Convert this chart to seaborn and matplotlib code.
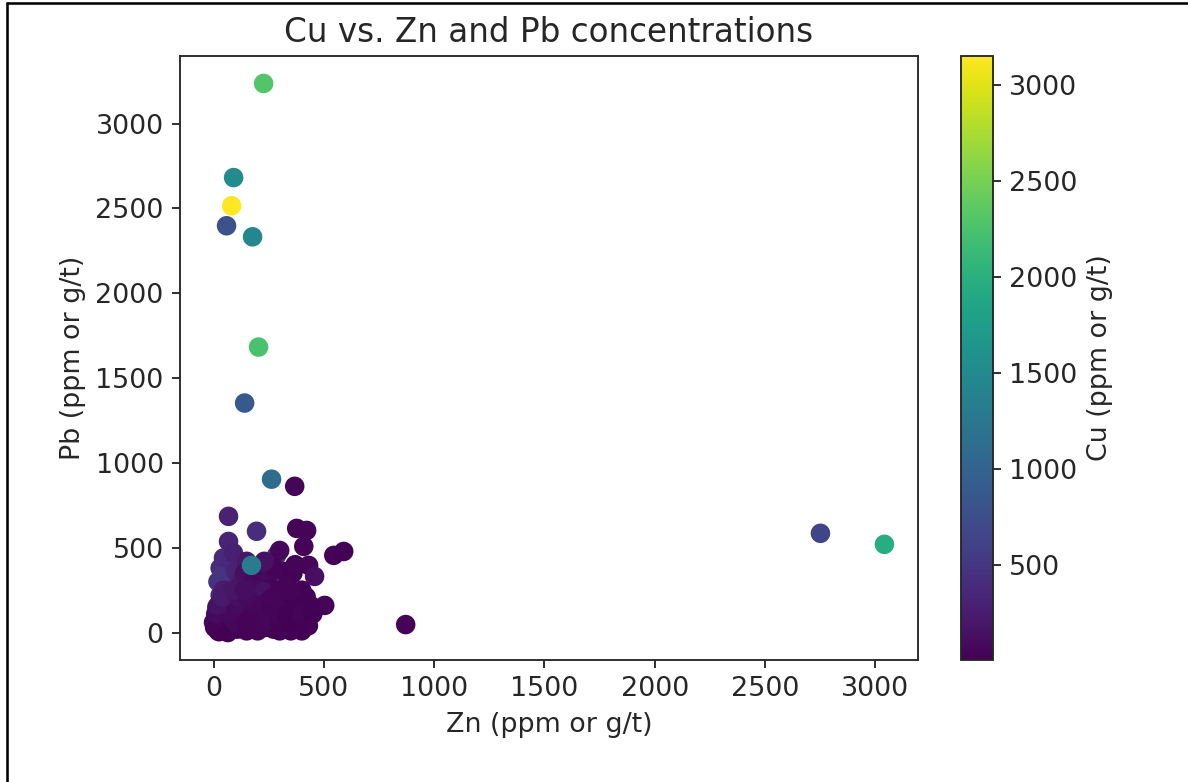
import matplotlib
matplotlib.use("Agg")
import matplotlib.pyplot as plt
from matplotlib.lines import Line2D
import numpy as np
import pandas as pd
import seaborn as sns

# Zn, Pb, Cu concentrations (ppm or g/t)
zn = [227, 91, 82, 59, 177, 204, 141, 263, 368, 2751, 3041, 871,
      68, 195, 377, 422, 409, 545, 590, 68, 286, 300, 431, 458, 504,
      20, 30, 45, 55, 40, 80, 100, 120, 90, 150, 140, 180, 210, 250,
      280, 320, 360, 230, 330, 260, 200, 400, 60, 30, 370,
      5, 12, 20, 28, 35, 42, 50, 55, 63, 70, 78, 85, 92, 100, 108,
      115, 122, 130, 138, 145, 152, 160, 168, 175, 182, 190, 198, 205,
      212, 220, 228, 235, 242, 250, 258, 265, 272, 280, 288, 295, 302,
      310, 318, 325, 333, 340, 348, 355, 362, 370, 378, 385, 392, 400,
      410, 420, 430, 440, 15, 45, 75, 110, 25, 65,
      150, 200, 300, 350, 400,
      0, 100, 150, 230, 300, 350, 420,
      10, 60, 170, 240, 290, 330, 400, 450,
      20, 100, 190, 260, 350, 400, 440,
      40, 110, 150, 270, 320, 360, 420,
      90, 140, 300, 350,
      172]
pb = [3237, 2682, 2516, 2398, 2333, 1683, 1353, 904, 862, 585, 520, 47,
      685, 597, 614, 602, 508, 455, 478, 537, 455, 484, 396, 331, 160,
      300, 380, 440, 260, 330, 420, 360, 300, 470, 420, 350, 300, 350, 330,
      380, 360, 350, 420, 280, 260, 250, 250, 200, 220, 400,
      30, 55, 10, 80, 40, 120, 15, 65, 150, 30, 95, 180, 50, 130, 20,
      75, 200, 45, 110, 160, 25, 85, 140, 55, 210, 100, 35, 170,
      70, 125, 240, 30, 90, 185, 60, 140, 20, 105, 220, 45, 160,
      80, 130, 35, 190, 95, 55, 145, 110, 30, 175, 70, 120, 50,
      150, 90, 40, 125, 150, 250, 240, 260, 5, 0,
      10, 10, 10, 10, 10,
      60, 60, 60, 60, 60, 60, 60,
      110, 110, 110, 110, 110, 110, 110, 110,
      160, 160, 160, 160, 160, 160, 160,
      210, 210, 210, 210, 210, 210, 210,
      250, 250, 250, 250,
      396]
cu = [2300, 1500, 3150, 800, 1450, 2250, 880, 1100, 50, 650, 1950, 40,
      300, 400, 40, 30, 35, 30, 25, 320, 500, 60, 40, 120, 30,
      450, 420, 380, 400, 480, 350, 300, 250, 280, 200, 120, 90, 60, 80,
      40, 30, 25, 150, 30, 50, 100, 20, 300, 350, 35,
      20, 35, 15, 60, 25, 90, 10, 45, 110, 30, 70, 140, 20, 55, 12,
      40, 160, 25, 80, 30, 15, 50, 95, 20, 120, 35, 18, 60,
      25, 45, 150, 15, 40, 70, 22, 50, 12, 30, 85, 18, 40,
      25, 55, 15, 65, 30, 20, 45, 35, 12, 60, 22, 40, 18,
      50, 28, 15, 35, 200, 250, 180, 150, 5, 10,
      20, 35, 15, 25, 10,
      40, 60, 30, 50, 20, 15, 25,
      90, 70, 40, 55, 30, 20, 35, 15,
      150, 80, 60, 40, 25, 30, 20,
      220, 120, 90, 45, 35, 25, 18,
      180, 110, 40, 30,
      1300]

df = pd.DataFrame({"Zn": zn, "Pb": pb, "Cu": cu})

sns.set_style("ticks")
plt.rcParams["font.family"] = ["DejaVu Sans"]
plt.rcParams["font.size"] = 11.5
plt.rcParams["xtick.labelsize"] = 11.5
plt.rcParams["ytick.labelsize"] = 11.5

fig = plt.figure(figsize=(1188 / 168, 782 / 168), dpi=168)
ax = fig.add_axes([0.1515, 0.156, 0.6212, 0.7724])
cax = fig.add_axes([0.809, 0.156, 0.0269, 0.7724])

norm = plt.Normalize(min(cu), max(cu))
sns.scatterplot(data=df, x="Zn", y="Pb", hue="Cu", palette="viridis",
                hue_norm=norm, s=70, linewidth=0, legend=False, ax=ax)

ax.set_title("Cu vs. Zn and Pb concentrations", fontsize=14)
ax.set_xlabel("Zn (ppm or g/t)", fontsize=11.5)
ax.set_ylabel("Pb (ppm or g/t)", fontsize=11.5)
ax.set_xticks([0, 500, 1000, 1500, 2000, 2500, 3000])
ax.set_yticks([0, 500, 1000, 1500, 2000, 2500, 3000])

sm = plt.cm.ScalarMappable(cmap="viridis", norm=norm)
cb = fig.colorbar(sm, cax=cax)
cb.set_label("Cu (ppm or g/t)", fontsize=11.5)
cb.set_ticks([500, 1000, 1500, 2000, 2500, 3000])

# screenshot frame (top and left edge)
fig.add_artist(Line2D([0.006, 0.006], [0, 0.996], color="black", lw=1.1))
fig.add_artist(Line2D([0.006, 1], [0.996, 0.996], color="black", lw=1.1))

fig.savefig("out.png", dpi=168)
